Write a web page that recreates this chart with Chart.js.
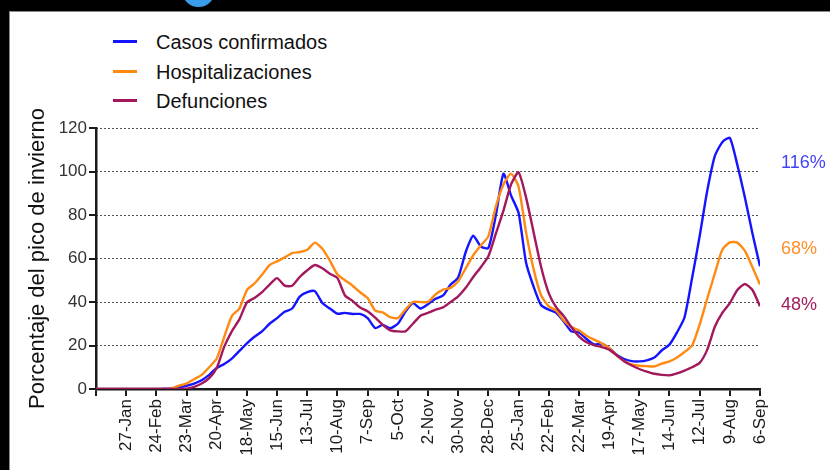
<!DOCTYPE html>
<html>
<head>
<meta charset="utf-8">
<script src="https://cdn.jsdelivr.net/npm/chart.js@4"></script>
<style>
  html, body { margin: 0; padding: 0; background: #000; width: 830px; height: 470px; overflow: hidden; }
  #panel { position: absolute; left: 9px; top: 11px; width: 821px; height: 459px; background: #fff; border-top: 1px solid #8a8a8a; border-left: 1px solid #8a8a8a; box-sizing: border-box; }
  #ring { position: absolute; left: 182px; top: -26px; width: 33px; height: 33px; border-radius: 50%; border: 7px solid #3a9be8; box-sizing: border-box; }
  #wrap { position: absolute; left: 0; top: 0; width: 830px; height: 470px; }
  .leg { position: absolute; left: 113px; height: 24px; font-family: "Liberation Sans", Arial, sans-serif; font-size: 20px; color: #111; }
  .leg span.sw { position: absolute; left: 0; top: 10px; width: 24px; height: 3px; }
  .leg span.tx { position: absolute; left: 43px; top: 0; white-space: nowrap; line-height: 24px; }
</style>
</head>
<body>
<div id="panel"></div>
<div id="ring"></div>
<div class="leg" style="top:30px"><span class="sw" style="background:#1414ff"></span><span class="tx">Casos confirmados</span></div>
<div class="leg" style="top:60px"><span class="sw" style="background:#ff8a12"></span><span class="tx">Hospitalizaciones</span></div>
<div class="leg" style="top:89px"><span class="sw" style="background:#a3175c"></span><span class="tx">Defunciones</span></div>
<div id="wrap"><canvas id="c" width="830" height="470"></canvas></div>
<script>
// x positions are week indices (0 = 30-Dec-2019, one value per week)
const xTickLabels = ['27-Jan','24-Feb','23-Mar','20-Apr','18-May','15-Jun','13-Jul','10-Aug','7-Sep','5-Oct','2-Nov','30-Nov','28-Dec','25-Jan','22-Feb','22-Mar','19-Apr','17-May','14-Jun','12-Jul','9-Aug','6-Sep'];
const seriesNames = ['Casos confirmados','Hospitalizaciones','Defunciones'];
const endLabels = ['116%','68%','48%'];

const casos = [0,0,0,0,0,0,0,0,0,0.1,0.3,0.8,1.5,2.5,4,6.5,9.7,11.5,14,17.5,
  21,24,26.5,30,32.6,35.5,37,42.5,44.5,45,39.5,37,34.6,35,34.5,34.5,32.6,28,29.5,28,
  30,35.5,39.5,37,39,41.5,43,48,51.3,63,70.5,65.5,64.8,80,99,89,81,58,47,38.5,
  36.5,35,31,26.5,26,23,20.5,20.8,18.9,15.8,13.8,12.8,12.7,13.2,14.5,17.8,20.4,26,33,51,
  70.2,91,107,113.5,115.5,103,88,71.5,56.4];
const hosp = [0,0,0,0,0,0,0,0,0,0,0.3,1.5,2.5,4.5,6.5,10,14,24,33.5,37,
  45.5,48.5,52.5,57,58.7,60.5,62.5,63,64,67.3,64.5,59,52.6,50,47.5,44.5,41.8,36,35.2,33,
  32.6,36.5,40,40,40,43.5,45.7,46.5,49.5,55.5,61.5,66,70.2,84,94,99,93,72,55,43,
  38,36,31.5,28.5,27,24.5,22.7,21,18.9,15.5,12.8,11.3,10.7,10.5,10.4,11.7,12.7,14.5,17,20,
  29.6,41.5,53,64,67.4,67.3,63.5,56,48];
const defun = [0,0,0,0,0,0,0,0,0,0,0,0,0.2,1,2.5,5,9.7,19.5,26.5,32,
  39.8,41.8,44.5,48,51,47.5,47.5,51.5,54.6,57,55.5,53,51,43,40.5,37.5,35.7,32.8,29.5,27,
  26.5,26.5,30,33.7,35,36.5,37.5,40,42.6,46.5,51.5,56,61,71.5,82,94,99.6,88,72,56,
  44.1,37.5,33.5,28.5,24.2,21.5,20.2,19.3,18.1,15.5,12.8,10.8,9.2,8,7,6.5,6.3,7.2,8.5,10,
  12,18,28.5,35,39.5,45.5,48.3,45.5,38];
const colors = ['#1414ff','#ff8a12','#a3175c'];
const labelColors = ['#4343f2','#ff8f2a','#a0205e'];

const toPts = arr => arr.map((v, i) => ({x: i, y: v}));
const FONT = '"Liberation Sans", Arial, sans-serif';

const endLabelPlugin = {
  id: 'endLabels',
  afterDraw(chart) {
    const ctx = chart.ctx;
    const ys = [163, 249, 305];
    ctx.save();
    ctx.font = '18px ' + FONT;
    ctx.textBaseline = 'middle';
    ctx.textAlign = 'left';
    endLabels.forEach((t, i) => {
      ctx.fillStyle = labelColors[i];
      ctx.fillText(t, 781, ys[i]);
    });
    ctx.restore();
  }
};

new Chart(document.getElementById('c'), {
  type: 'line',
  data: {
    datasets: [casos, hosp, defun].map((d, i) => ({
      label: seriesNames[i],
      data: toPts(d),
      borderColor: colors[i],
      backgroundColor: colors[i],
      borderWidth: 2.4,
      pointRadius: 0,
      tension: 0.2,
      fill: false,
      yAxisID: 'y'
    })).reverse()
  },
  options: {
    responsive: false,
    animation: false,
    layout: { padding: { left: 0, top: 128, right: 70, bottom: 0 } },
    plugins: { legend: { display: false }, tooltip: { enabled: false } },
    scales: {
      x: {
        type: 'linear',
        min: 0, max: 88,
        afterFit: s => { s.height = 81; },
        border: { display: true, color: '#1a1a1a', width: 2.5 },
        grid: { drawOnChartArea: false, drawTicks: true, tickLength: 7, color: '#1a1a1a', lineWidth: 2 },
        ticks: {
          stepSize: 4, autoSkip: false, maxRotation: 90, minRotation: 90,
          padding: 3, color: '#1a1a1a', font: { family: FONT, size: 17 },
          callback: v => (v === 0 ? '' : xTickLabels[v / 4 - 1])
        }
      },
      y: {
        position: 'left', weight: 0,
        min: 0, max: 120,
        afterFit: s => { s.width = 0; },
        border: { display: false, dash: [2, 2] },
        grid: { drawOnChartArea: true, drawTicks: false, color: c => (c.tick && c.tick.value === 0 ? 'rgba(0,0,0,0)' : '#555'), lineWidth: 1 },
        ticks: { display: false, stepSize: 20 }
      },
      y2: {
        position: 'left', weight: 1,
        min: 0, max: 120,
        afterFit: s => { s.width = 96; },
        border: { display: true, color: '#1a1a1a', width: 2.5 },
        grid: { drawOnChartArea: false, drawTicks: true, tickLength: 7, color: '#1a1a1a', lineWidth: 2 },
        ticks: { stepSize: 20, padding: 2, color: '#333', font: { family: FONT, size: 17 } },
        title: { display: true, text: 'Porcentaje del pico de invierno', color: '#111', font: { family: FONT, size: 22 }, padding: { top: 25, bottom: 0 } }
      }
    }
  },
  plugins: [endLabelPlugin]
});
</script>
</body>
</html>
